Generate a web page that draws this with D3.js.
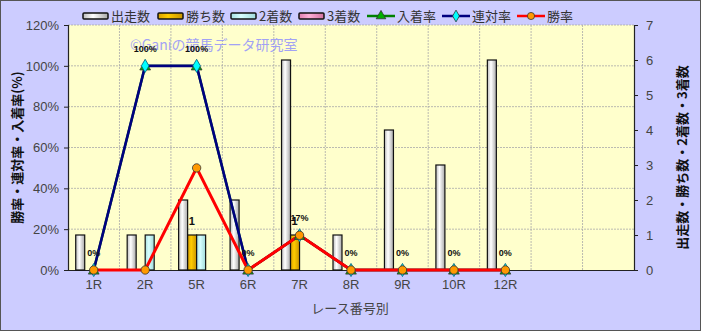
<!DOCTYPE html>
<html>
<head>
<meta charset="utf-8">
<script src="https://cdn.jsdelivr.net/npm/d3@7"></script>
<style>
body { margin: 0; background: #fff; }
svg text { font-family: "Liberation Sans", Arial, "Noto Sans CJK JP", sans-serif; }
</style>
</head>
<body>
<svg id="chart" width="703" height="333"></svg>
<script>
// race-number breakdown: counts (bars, right axis) and rates (lines, left axis)

var cats = ['1R', '2R', '5R', '6R', '7R', '8R', '9R', '10R', '12R'];
var slotCount = 11; // two empty slots on the right
var starts = [1, 1, 2, 2, 6, 1, 4, 3, 6];
var wins = [0, 0, 1, 0, 1, 0, 0, 0, 0];
var seconds = [0, 1, 1, 0, 0, 0, 0, 0, 0];
var thirds = [0, 0, 0, 0, 0, 0, 0, 0, 0];
var placeRate = [0, 100, 100, 0, 17, 0, 0, 0, 0];
var rentaiRate = [0, 100, 100, 0, 17, 0, 0, 0, 0];
var winRate = [0, 0, 50, 0, 17, 0, 0, 0, 0];
var leftTicks = [0, 20, 40, 60, 80, 100, 120];
var rightTicks = [0, 1, 2, 3, 4, 5, 6, 7];

var pad = {top: 25, left: 68, right: 69, bottom: 63};
var W = 703, H = 333;
var cw = W - pad.left - pad.right, ch = H - pad.top - pad.bottom;

var svg = d3.select('#chart');
var defs = svg.append('defs');

function hgrad(id, stops) {
	var g = defs.append('linearGradient').attr('id', id)
		.attr('x1', '0%').attr('x2', '100%').attr('y1', '0%').attr('y2', '0%');
	stops.forEach(function (s) {
		g.append('stop').attr('offset', s[0]).attr('stop-color', s[1]);
	});
}
hgrad('g_start', [['0%', '#bdbdbd'], ['40%', '#ffffff'], ['100%', '#a8a8a8']]);
hgrad('g_win', [['0%', '#d9a000'], ['40%', '#ffcc00'], ['100%', '#c89400']]);
hgrad('g_2nd', [['0%', '#a8e0e0'], ['40%', '#d8ffff'], ['100%', '#a0dada']]);
hgrad('g_3rd', [['0%', '#e080b0'], ['40%', '#ffb0d8'], ['100%', '#d070a0']]);

// outer frame
svg.append('rect').attr('x', 0.5).attr('y', 0.5).attr('width', W - 3).attr('height', H - 3)
	.attr('fill', '#ccccff').attr('stroke', '#555').attr('stroke-width', 1);

var g = svg.append('g').attr('transform', 'translate(' + pad.left + ',' + pad.top + ')');

g.append('rect').attr('width', cw).attr('height', ch).attr('fill', '#ffffcc');

var x = d3.scaleBand().domain(d3.range(slotCount)).range([0, cw]);
var yL = d3.scaleLinear().domain([0, 120]).range([ch, 0]);
var yR = d3.scaleLinear().domain([0, 7]).range([ch, 0]);
var sub = d3.scaleBand().domain([0, 1, 2, 3]).range([-x.bandwidth() * 0.35, x.bandwidth() * 0.35]);
function cx(i) { return x(i) + x.bandwidth() / 2; }

// grid
g.append('g').selectAll('line').data(leftTicks.slice(1)).enter().append('line')
	.attr('x1', 0).attr('x2', cw).attr('y1', function (d) {return yL(d);}).attr('y2', function (d) {return yL(d);})
	.attr('stroke', '#aaa').attr('stroke-dasharray', '2,1').attr('stroke-width', 0.8);
g.append('g').selectAll('line').data(d3.range(1, slotCount)).enter().append('line')
	.attr('x1', function (d) {return x(d);}).attr('x2', function (d) {return x(d);})
	.attr('y1', 0).attr('y2', ch)
	.attr('stroke', '#aaa').attr('stroke-dasharray', '2,1').attr('stroke-width', 0.8);

// watermark
g.append('text').attr('x', 62).attr('y', 25).text('©Ganiの競馬データ研究室')
	.attr('font-size', 14).attr('fill', '#8c8cff').attr('opacity', 0.8)
	.style('font-family', '"Noto Sans CJK JP", sans-serif');

// axes (drawn before the marks so the zero lines sit on top)
var axL = g.append('g').call(d3.axisLeft(yL).tickValues(leftTicks).tickSize(4).tickFormat(function (d) {return d + '%';}));
var axR = g.append('g').attr('transform', 'translate(' + cw + ',0)')
	.call(d3.axisRight(yR).tickValues(rightTicks).tickSize(4).tickPadding(8).tickFormat(d3.format('d')));
var axB = g.append('g').attr('transform', 'translate(0,' + ch + ')')
	.call(d3.axisBottom(x).tickSize(0).tickPadding(10).tickFormat(function (i) {return cats[i] || '';}));
[axL, axR, axB].forEach(function (a) {
	a.select('.domain').attr('stroke', '#222').attr('stroke-width', 1.2);
	a.selectAll('.tick line').attr('stroke', '#222');
	a.selectAll('text').attr('font-size', 13).attr('fill', '#444')
		.style('font-family', '"Liberation Sans", Arial, sans-serif');
});
axL.selectAll('text').attr('dx', -2);

// bars
var series = [
	{vals: starts, fill: 'url(#g_start)'},
	{vals: wins, fill: 'url(#g_win)'},
	{vals: seconds, fill: 'url(#g_2nd)'},
	{vals: thirds, fill: 'url(#g_3rd)'}
];
series.forEach(function (s, k) {
	g.append('g').selectAll('rect').data(s.vals.map(function (v, i) {return {i: i, v: v};}).filter(function (d) {return d.v > 0;}))
		.enter().append('rect')
		.attr('x', function (d) {return cx(d.i) + sub(k);})
		.attr('width', sub.bandwidth())
		.attr('y', function (d) {return yR(d.v);})
		.attr('height', function (d) {return ch - yR(d.v);})
		.attr('fill', s.fill).attr('stroke', '#111').attr('stroke-width', 1.2);
});

// win count labels
g.append('g').selectAll('text').data(wins.map(function (v, i) {return {i: i, v: v};}).filter(function (d) {return d.v > 0;}))
	.enter().append('text')
	.attr('x', function (d) {return cx(d.i) + sub(1) + 1;})
	.attr('y', function (d) {return yR(d.v) - 10;})
	.text(function (d) {return d.v;})
	.attr('font-size', 11).attr('font-weight', 'bold').attr('fill', '#111');

// lines (red last and a little wider so it covers the others)
var lines = [
	{vals: placeRate, color: '#008000', marker: 'tri', mfill: '#00b000', w: 2.4},
	{vals: rentaiRate, color: '#000080', marker: 'dia', mfill: '#00ffff', w: 2.6},
	{vals: winRate, color: '#ff0000', marker: 'cir', mfill: '#ff9900', w: 3}
];
var line = d3.line().x(function (d, i) {return cx(i);}).y(function (d) {return yL(d);});
lines.forEach(function (s) {
	g.append('path').datum(s.vals).attr('d', line)
		.attr('fill', 'none').attr('stroke', s.color).attr('stroke-width', s.w);
});
lines.forEach(function (s) {
	var sym = s.marker == 'tri' ? d3.symbolTriangle : (s.marker == 'dia' ? d3.symbolDiamond : d3.symbolCircle);
	var size = s.marker == 'cir' ? 55 : 50;
	g.append('g').selectAll('path').data(s.vals).enter().append('path')
		.attr('d', d3.symbol().type(sym).size(size))
		.attr('transform', function (d, i) {return 'translate(' + cx(i) + ',' + (yL(d) + (s.marker == 'tri' ? 1 : 0)) + ')';})
		.attr('fill', s.mfill).attr('stroke', s.marker == 'dia' ? '#006080' : '#333').attr('stroke-width', 0.8);
});

// rate labels
g.append('g').selectAll('text').data(rentaiRate).enter().append('text')
	.attr('x', function (d, i) {return cx(i);})
	.attr('y', function (d) {return yL(d) - 14;})
	.attr('text-anchor', 'middle')
	.text(function (d) {return d + '%';})
	.attr('font-size', 9).attr('font-weight', 'bold').attr('fill', '#111');

// axis titles
svg.append('text').attr('transform', 'translate(22,' + (pad.top + ch / 2) + ') rotate(-90)')
	.attr('text-anchor', 'middle').text('勝率・連対率・入着率(%)')
	.attr('font-size', 13).attr('font-weight', 'bold').attr('fill', '#111')
	.style('font-family', '"Noto Sans CJK JP", sans-serif');
svg.append('text').attr('transform', 'translate(687,' + (pad.top + ch / 2 + 10) + ') rotate(-90)')
	.attr('text-anchor', 'middle').text('出走数・勝ち数・2着数・3着数')
	.attr('font-size', 13).attr('font-weight', 'bold').attr('fill', '#111')
	.style('font-family', '"Noto Sans CJK JP", sans-serif');
svg.append('text').attr('x', 350).attr('y', 313).attr('text-anchor', 'middle').text('レース番号別')
	.attr('font-size', 13).attr('fill', '#444')
	.style('font-family', '"Noto Sans CJK JP", sans-serif');

// legend
var legBars = [
	{name: '出走数', fill: 'url(#g_start)', x: 83},
	{name: '勝ち数', fill: 'url(#g_win)', x: 158},
	{name: '2着数', fill: 'url(#g_2nd)', x: 231},
	{name: '3着数', fill: 'url(#g_3rd)', x: 299}
];
var legLines = [
	{name: '入着率', s: lines[0], x: 367},
	{name: '連対率', s: lines[1], x: 442},
	{name: '勝率', s: lines[2], x: 517}
];
var leg = svg.append('g');
legBars.forEach(function (d) {
	leg.append('rect').attr('x', d.x).attr('y', 13).attr('width', 25).attr('height', 6)
		.attr('fill', d.fill).attr('stroke', '#111').attr('stroke-width', 1.5).attr('rx', 1);
	leg.append('text').attr('x', d.x + 28).attr('y', 21).text(d.name)
		.attr('font-size', 13).attr('fill', '#333').style('font-family', '"Noto Sans CJK JP", sans-serif');
});
legLines.forEach(function (d) {
	var s = d.s;
	leg.append('line').attr('x1', d.x).attr('x2', d.x + 28).attr('y1', 16).attr('y2', 16)
		.attr('stroke', s.color).attr('stroke-width', 2.5);
	var sym = s.marker == 'tri' ? d3.symbolTriangle : (s.marker == 'dia' ? d3.symbolDiamond : d3.symbolCircle);
	leg.append('path').attr('d', d3.symbol().type(sym).size(40))
		.attr('transform', 'translate(' + (d.x + 14) + ',16)')
		.attr('fill', s.mfill).attr('stroke', '#333').attr('stroke-width', 0.8);
	leg.append('text').attr('x', d.x + 30).attr('y', 21).text(d.name)
		.attr('font-size', 13).attr('fill', '#333').style('font-family', '"Noto Sans CJK JP", sans-serif');
});
</script>
</body>
</html>
